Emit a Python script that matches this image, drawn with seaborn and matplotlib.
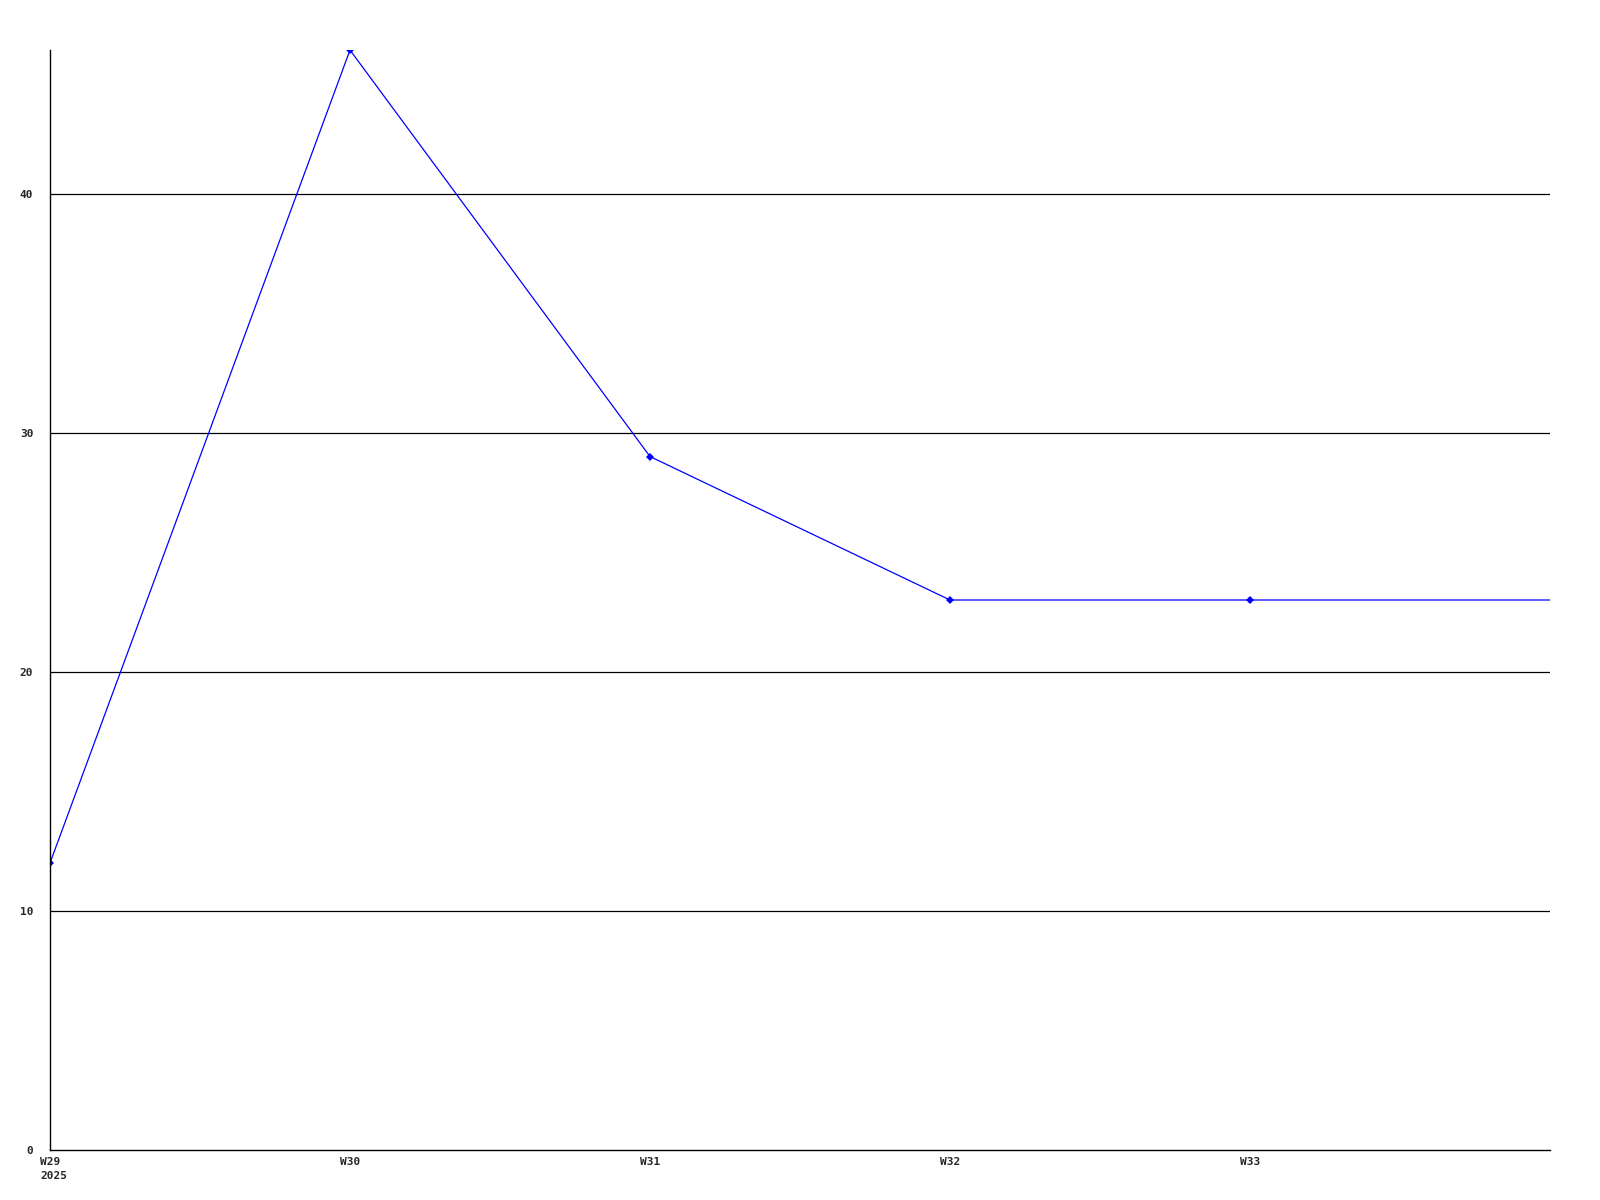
import pandas as pd
import seaborn as sns
import matplotlib.pyplot as plt
import matplotlib.transforms as mtransforms

weeks = ["W29", "W30", "W31", "W32", "W33", "W34"]
counts = [12, 46, 29, 23, 23, 23]
tick_labels = ["W29\n2025", "W30", "W31", "W32", "W33"]
y_ticks = [0, 10, 20, 30, 40]

df = pd.DataFrame({"week": weeks, "count": counts})
df["x"] = range(len(df))

sns.set_style("white")
plt.rcParams["font.family"] = ["DejaVu Sans Mono"]

fig = plt.figure(figsize=(16, 12), dpi=100)
ax = fig.add_axes([0.03125, 0.0417, 0.9375, 0.9166])

sns.lineplot(
    data=df, x="x", y="count", ax=ax, color="#0000ff",
    linewidth=0.9, marker="D", markersize=4, markeredgewidth=0,
    markevery=list(range(len(df) - 1)),
)

ax.set_xlim(0, len(df) - 1)
ax.set_ylim(0, 46)
ax.set_xticks(range(len(tick_labels)))
ax.set_xticklabels(tick_labels, fontsize=8, fontweight="bold", linespacing=1.45)
ax.set_yticks(y_ticks)
ax.set_yticklabels([str(v) for v in y_ticks], fontsize=8, fontweight="bold")
ax.tick_params(axis="both", length=0)
ax.tick_params(axis="x", pad=5)
ax.tick_params(axis="y", pad=12)

# first label is left aligned, starting a little left of the axis
first = ax.get_xticklabels()[0]
first.set_horizontalalignment("left")
first.set_transform(first.get_transform() + mtransforms.ScaledTranslation(-0.10, 0, fig.dpi_scale_trans))

for v in y_ticks[1:]:
    ax.axhline(v, color="black", linewidth=0.9, zorder=0)

for s in ["top", "right"]:
    ax.spines[s].set_visible(False)
for s in ["left", "bottom"]:
    ax.spines[s].set_color("black")
    ax.spines[s].set_linewidth(1.0)

ax.set_xlabel("")
ax.set_ylabel("")

fig.savefig("out.png", dpi=100)
